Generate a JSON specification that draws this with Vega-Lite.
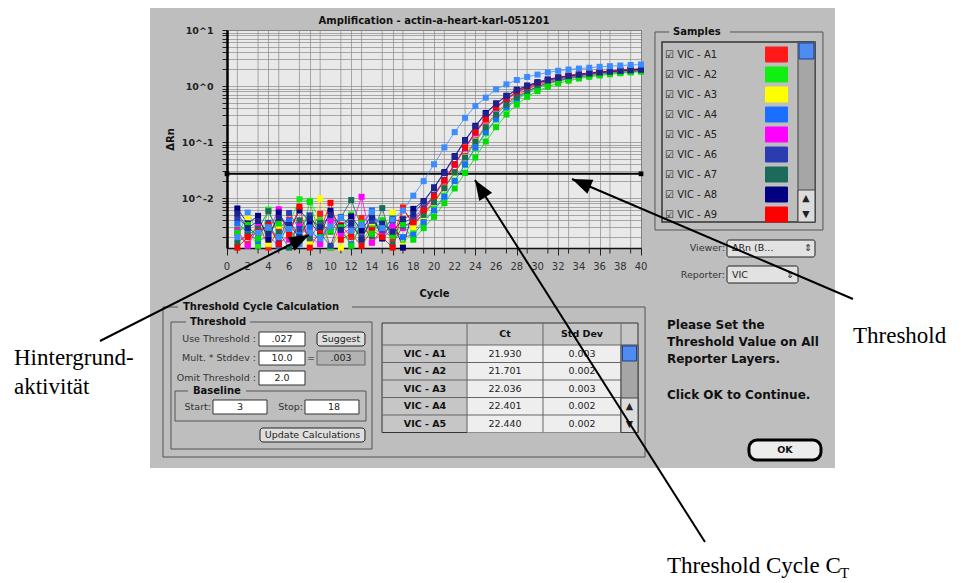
{
"$schema":"https://vega.github.io/schema/vega-lite/v6.json",
"width":414,"height":218,
"autosize":{"type":"none"},
"padding":{"left":227,"top":30,"right":321,"bottom":335},
"background":"#bebebe",
"datasets":{
"amp":[
{"s":"A1","c":1,"v":0.0022},{"s":"A1","c":2,"v":0.0015},{"s":"A1","c":3,"v":0.0038},{"s":"A1","c":4,"v":0.0013},{"s":"A1","c":5,"v":0.0029},{"s":"A1","c":6,"v":0.0041},{"s":"A1","c":7,"v":0.0018},{"s":"A1","c":8,"v":0.0026},{"s":"A1","c":9,"v":0.0052},{"s":"A1","c":10,"v":0.0013},{"s":"A1","c":11,"v":0.0033},{"s":"A1","c":12,"v":0.0020},{"s":"A1","c":13,"v":0.0044},{"s":"A1","c":14,"v":0.0016},{"s":"A1","c":15,"v":0.0028},{"s":"A1","c":16,"v":0.0019},{"s":"A1","c":17,"v":0.0068},{"s":"A1","c":18,"v":0.0032},{"s":"A1","c":19,"v":0.0054},{"s":"A1","c":20,"v":0.0088},{"s":"A1","c":21,"v":0.0155},{"s":"A1","c":22,"v":0.029},{"s":"A1","c":23,"v":0.056},{"s":"A1","c":24,"v":0.107},{"s":"A1","c":25,"v":0.195},{"s":"A1","c":26,"v":0.33},{"s":"A1","c":27,"v":0.49},{"s":"A1","c":28,"v":0.68},{"s":"A1","c":29,"v":0.87},{"s":"A1","c":30,"v":1.03},{"s":"A1","c":31,"v":1.18},{"s":"A1","c":32,"v":1.32},{"s":"A1","c":33,"v":1.44},{"s":"A1","c":34,"v":1.55},{"s":"A1","c":35,"v":1.64},{"s":"A1","c":36,"v":1.72},{"s":"A1","c":37,"v":1.79},{"s":"A1","c":38,"v":1.85},{"s":"A1","c":39,"v":1.92},{"s":"A1","c":40,"v":1.97},
{"s":"A2","c":1,"v":0.0031},{"s":"A2","c":2,"v":0.0026},{"s":"A2","c":3,"v":0.0014},{"s":"A2","c":4,"v":0.0062},{"s":"A2","c":5,"v":0.0020},{"s":"A2","c":6,"v":0.0035},{"s":"A2","c":7,"v":0.0095},{"s":"A2","c":8,"v":0.0089},{"s":"A2","c":9,"v":0.0040},{"s":"A2","c":10,"v":0.0013},{"s":"A2","c":11,"v":0.0024},{"s":"A2","c":12,"v":0.0051},{"s":"A2","c":13,"v":0.0017},{"s":"A2","c":14,"v":0.0030},{"s":"A2","c":15,"v":0.0022},{"s":"A2","c":16,"v":0.0048},{"s":"A2","c":17,"v":0.0015},{"s":"A2","c":18,"v":0.0026},{"s":"A2","c":19,"v":0.0039},{"s":"A2","c":20,"v":0.0064},{"s":"A2","c":21,"v":0.011},{"s":"A2","c":22,"v":0.0205},{"s":"A2","c":23,"v":0.039},{"s":"A2","c":24,"v":0.077},{"s":"A2","c":25,"v":0.143},{"s":"A2","c":26,"v":0.25},{"s":"A2","c":27,"v":0.40},{"s":"A2","c":28,"v":0.57},{"s":"A2","c":29,"v":0.75},{"s":"A2","c":30,"v":0.92},{"s":"A2","c":31,"v":1.08},{"s":"A2","c":32,"v":1.22},{"s":"A2","c":33,"v":1.34},{"s":"A2","c":34,"v":1.45},{"s":"A2","c":35,"v":1.55},{"s":"A2","c":36,"v":1.63},{"s":"A2","c":37,"v":1.71},{"s":"A2","c":38,"v":1.77},{"s":"A2","c":39,"v":1.83},{"s":"A2","c":40,"v":1.89},
{"s":"A3","c":1,"v":0.0019},{"s":"A3","c":2,"v":0.0046},{"s":"A3","c":3,"v":0.0023},{"s":"A3","c":4,"v":0.0015},{"s":"A3","c":5,"v":0.0032},{"s":"A3","c":6,"v":0.0020},{"s":"A3","c":7,"v":0.0027},{"s":"A3","c":8,"v":0.0016},{"s":"A3","c":9,"v":0.0098},{"s":"A3","c":10,"v":0.0034},{"s":"A3","c":11,"v":0.0013},{"s":"A3","c":12,"v":0.0029},{"s":"A3","c":13,"v":0.0021},{"s":"A3","c":14,"v":0.0037},{"s":"A3","c":15,"v":0.0025},{"s":"A3","c":16,"v":0.0055},{"s":"A3","c":17,"v":0.0014},{"s":"A3","c":18,"v":0.0030},{"s":"A3","c":19,"v":0.0047},{"s":"A3","c":20,"v":0.0082},{"s":"A3","c":21,"v":0.015},{"s":"A3","c":22,"v":0.028},{"s":"A3","c":23,"v":0.054},{"s":"A3","c":24,"v":0.104},{"s":"A3","c":25,"v":0.188},{"s":"A3","c":26,"v":0.32},{"s":"A3","c":27,"v":0.475},{"s":"A3","c":28,"v":0.65},{"s":"A3","c":29,"v":0.83},{"s":"A3","c":30,"v":0.99},{"s":"A3","c":31,"v":1.14},{"s":"A3","c":32,"v":1.27},{"s":"A3","c":33,"v":1.39},{"s":"A3","c":34,"v":1.49},{"s":"A3","c":35,"v":1.58},{"s":"A3","c":36,"v":1.66},{"s":"A3","c":37,"v":1.73},{"s":"A3","c":38,"v":1.79},{"s":"A3","c":39,"v":1.85},{"s":"A3","c":40,"v":1.90},
{"s":"A4","c":1,"v":0.0036},{"s":"A4","c":2,"v":0.0024},{"s":"A4","c":3,"v":0.0017},{"s":"A4","c":4,"v":0.0021},{"s":"A4","c":5,"v":0.0014},{"s":"A4","c":6,"v":0.0039},{"s":"A4","c":7,"v":0.0022},{"s":"A4","c":8,"v":0.0030},{"s":"A4","c":9,"v":0.0016},{"s":"A4","c":10,"v":0.0043},{"s":"A4","c":11,"v":0.0026},{"s":"A4","c":12,"v":0.0015},{"s":"A4","c":13,"v":0.0034},{"s":"A4","c":14,"v":0.0060},{"s":"A4","c":15,"v":0.0019},{"s":"A4","c":16,"v":0.0028},{"s":"A4","c":17,"v":0.0020},{"s":"A4","c":18,"v":0.0022},{"s":"A4","c":19,"v":0.0037},{"s":"A4","c":20,"v":0.0060},{"s":"A4","c":21,"v":0.0105},{"s":"A4","c":22,"v":0.020},{"s":"A4","c":23,"v":0.040},{"s":"A4","c":24,"v":0.080},{"s":"A4","c":25,"v":0.150},{"s":"A4","c":26,"v":0.26},{"s":"A4","c":27,"v":0.42},{"s":"A4","c":28,"v":0.60},{"s":"A4","c":29,"v":0.79},{"s":"A4","c":30,"v":0.97},{"s":"A4","c":31,"v":1.13},{"s":"A4","c":32,"v":1.28},{"s":"A4","c":33,"v":1.41},{"s":"A4","c":34,"v":1.52},{"s":"A4","c":35,"v":1.63},{"s":"A4","c":36,"v":1.71},{"s":"A4","c":37,"v":1.80},{"s":"A4","c":38,"v":1.86},{"s":"A4","c":39,"v":1.92},{"s":"A4","c":40,"v":1.98},
{"s":"A5","c":1,"v":0.0027},{"s":"A5","c":2,"v":0.0014},{"s":"A5","c":3,"v":0.0030},{"s":"A5","c":4,"v":0.0025},{"s":"A5","c":5,"v":0.0063},{"s":"A5","c":6,"v":0.0018},{"s":"A5","c":7,"v":0.0033},{"s":"A5","c":8,"v":0.0020},{"s":"A5","c":9,"v":0.0015},{"s":"A5","c":10,"v":0.0038},{"s":"A5","c":11,"v":0.0022},{"s":"A5","c":12,"v":0.0029},{"s":"A5","c":13,"v":0.0105},{"s":"A5","c":14,"v":0.0016},{"s":"A5","c":15,"v":0.0024},{"s":"A5","c":16,"v":0.0031},{"s":"A5","c":17,"v":0.0029},{"s":"A5","c":18,"v":0.0039},{"s":"A5","c":19,"v":0.0062},{"s":"A5","c":20,"v":0.011},{"s":"A5","c":21,"v":0.0205},{"s":"A5","c":22,"v":0.039},{"s":"A5","c":23,"v":0.077},{"s":"A5","c":24,"v":0.143},{"s":"A5","c":25,"v":0.25},{"s":"A5","c":26,"v":0.40},{"s":"A5","c":27,"v":0.57},{"s":"A5","c":28,"v":0.75},{"s":"A5","c":29,"v":0.92},{"s":"A5","c":30,"v":1.08},{"s":"A5","c":31,"v":1.22},{"s":"A5","c":32,"v":1.34},{"s":"A5","c":33,"v":1.45},{"s":"A5","c":34,"v":1.55},{"s":"A5","c":35,"v":1.63},{"s":"A5","c":36,"v":1.71},{"s":"A5","c":37,"v":1.77},{"s":"A5","c":38,"v":1.83},{"s":"A5","c":39,"v":1.89},{"s":"A5","c":40,"v":1.93},
{"s":"A6","c":1,"v":0.0044},{"s":"A6","c":2,"v":0.0030},{"s":"A6","c":3,"v":0.0021},{"s":"A6","c":4,"v":0.0036},{"s":"A6","c":5,"v":0.0016},{"s":"A6","c":6,"v":0.0054},{"s":"A6","c":7,"v":0.0028},{"s":"A6","c":8,"v":0.0049},{"s":"A6","c":9,"v":0.0023},{"s":"A6","c":10,"v":0.0014},{"s":"A6","c":11,"v":0.0046},{"s":"A6","c":12,"v":0.0032},{"s":"A6","c":13,"v":0.0020},{"s":"A6","c":14,"v":0.0039},{"s":"A6","c":15,"v":0.0027},{"s":"A6","c":16,"v":0.0043},{"s":"A6","c":17,"v":0.0036},{"s":"A6","c":18,"v":0.0044},{"s":"A6","c":19,"v":0.0066},{"s":"A6","c":20,"v":0.0115},{"s":"A6","c":21,"v":0.021},{"s":"A6","c":22,"v":0.040},{"s":"A6","c":23,"v":0.079},{"s":"A6","c":24,"v":0.149},{"s":"A6","c":25,"v":0.26},{"s":"A6","c":26,"v":0.415},{"s":"A6","c":27,"v":0.59},{"s":"A6","c":28,"v":0.78},{"s":"A6","c":29,"v":0.96},{"s":"A6","c":30,"v":1.12},{"s":"A6","c":31,"v":1.27},{"s":"A6","c":32,"v":1.39},{"s":"A6","c":33,"v":1.51},{"s":"A6","c":34,"v":1.61},{"s":"A6","c":35,"v":1.70},{"s":"A6","c":36,"v":1.78},{"s":"A6","c":37,"v":1.84},{"s":"A6","c":38,"v":1.90},{"s":"A6","c":39,"v":1.96},{"s":"A6","c":40,"v":2.01},
{"s":"A7","c":1,"v":0.0016},{"s":"A7","c":2,"v":0.0022},{"s":"A7","c":3,"v":0.0028},{"s":"A7","c":4,"v":0.0058},{"s":"A7","c":5,"v":0.0024},{"s":"A7","c":6,"v":0.0013},{"s":"A7","c":7,"v":0.0040},{"s":"A7","c":8,"v":0.0019},{"s":"A7","c":9,"v":0.0036},{"s":"A7","c":10,"v":0.0025},{"s":"A7","c":11,"v":0.0045},{"s":"A7","c":12,"v":0.0092},{"s":"A7","c":13,"v":0.0030},{"s":"A7","c":14,"v":0.0021},{"s":"A7","c":15,"v":0.0066},{"s":"A7","c":16,"v":0.0015},{"s":"A7","c":17,"v":0.0032},{"s":"A7","c":18,"v":0.0037},{"s":"A7","c":19,"v":0.0050},{"s":"A7","c":20,"v":0.0084},{"s":"A7","c":21,"v":0.015},{"s":"A7","c":22,"v":0.0285},{"s":"A7","c":23,"v":0.053},{"s":"A7","c":24,"v":0.102},{"s":"A7","c":25,"v":0.184},{"s":"A7","c":26,"v":0.31},{"s":"A7","c":27,"v":0.465},{"s":"A7","c":28,"v":0.64},{"s":"A7","c":29,"v":0.81},{"s":"A7","c":30,"v":0.97},{"s":"A7","c":31,"v":1.12},{"s":"A7","c":32,"v":1.24},{"s":"A7","c":33,"v":1.36},{"s":"A7","c":34,"v":1.46},{"s":"A7","c":35,"v":1.54},{"s":"A7","c":36,"v":1.62},{"s":"A7","c":37,"v":1.69},{"s":"A7","c":38,"v":1.75},{"s":"A7","c":39,"v":1.80},{"s":"A7","c":40,"v":1.85},
{"s":"A8","c":1,"v":0.0065},{"s":"A8","c":2,"v":0.0035},{"s":"A8","c":3,"v":0.0048},{"s":"A8","c":4,"v":0.0018},{"s":"A8","c":5,"v":0.0055},{"s":"A8","c":6,"v":0.0026},{"s":"A8","c":7,"v":0.0060},{"s":"A8","c":8,"v":0.0038},{"s":"A8","c":9,"v":0.0022},{"s":"A8","c":10,"v":0.0059},{"s":"A8","c":11,"v":0.0031},{"s":"A8","c":12,"v":0.0047},{"s":"A8","c":13,"v":0.0026},{"s":"A8","c":14,"v":0.0050},{"s":"A8","c":15,"v":0.0019},{"s":"A8","c":16,"v":0.0040},{"s":"A8","c":17,"v":0.0013},{"s":"A8","c":18,"v":0.0064},{"s":"A8","c":19,"v":0.0088},{"s":"A8","c":20,"v":0.0155},{"s":"A8","c":21,"v":0.029},{"s":"A8","c":22,"v":0.056},{"s":"A8","c":23,"v":0.108},{"s":"A8","c":24,"v":0.195},{"s":"A8","c":25,"v":0.33},{"s":"A8","c":26,"v":0.49},{"s":"A8","c":27,"v":0.67},{"s":"A8","c":28,"v":0.86},{"s":"A8","c":29,"v":1.02},{"s":"A8","c":30,"v":1.17},{"s":"A8","c":31,"v":1.31},{"s":"A8","c":32,"v":1.43},{"s":"A8","c":33,"v":1.53},{"s":"A8","c":34,"v":1.62},{"s":"A8","c":35,"v":1.70},{"s":"A8","c":36,"v":1.77},{"s":"A8","c":37,"v":1.84},{"s":"A8","c":38,"v":1.90},{"s":"A8","c":39,"v":1.95},{"s":"A8","c":40,"v":1.99},
{"s":"A9","c":1,"v":0.0013},{"s":"A9","c":2,"v":0.0020},{"s":"A9","c":3,"v":0.0025},{"s":"A9","c":4,"v":0.0033},{"s":"A9","c":5,"v":0.0015},{"s":"A9","c":6,"v":0.0022},{"s":"A9","c":7,"v":0.0070},{"s":"A9","c":8,"v":0.0013},{"s":"A9","c":9,"v":0.0026},{"s":"A9","c":10,"v":0.0082},{"s":"A9","c":11,"v":0.0018},{"s":"A9","c":12,"v":0.0023},{"s":"A9","c":13,"v":0.0014},{"s":"A9","c":14,"v":0.0027},{"s":"A9","c":15,"v":0.0020},{"s":"A9","c":16,"v":0.0013},{"s":"A9","c":17,"v":0.0062},{"s":"A9","c":18,"v":0.0037},{"s":"A9","c":19,"v":0.0061},{"s":"A9","c":20,"v":0.0108},{"s":"A9","c":21,"v":0.0205},{"s":"A9","c":22,"v":0.040},{"s":"A9","c":23,"v":0.080},{"s":"A9","c":24,"v":0.150},{"s":"A9","c":25,"v":0.26},{"s":"A9","c":26,"v":0.42},{"s":"A9","c":27,"v":0.60},{"s":"A9","c":28,"v":0.79},{"s":"A9","c":29,"v":0.97},{"s":"A9","c":30,"v":1.13},{"s":"A9","c":31,"v":1.28},{"s":"A9","c":32,"v":1.41},{"s":"A9","c":33,"v":1.52},{"s":"A9","c":34,"v":1.63},{"s":"A9","c":35,"v":1.71},{"s":"A9","c":36,"v":1.80},{"s":"A9","c":37,"v":1.86},{"s":"A9","c":38,"v":1.92},{"s":"A9","c":39,"v":1.98},{"s":"A9","c":40,"v":2.03},
{"s":"A10","c":1,"v":0.0024},{"s":"A10","c":2,"v":0.0033},{"s":"A10","c":3,"v":0.0019},{"s":"A10","c":4,"v":0.0027},{"s":"A10","c":5,"v":0.0035},{"s":"A10","c":6,"v":0.0029},{"s":"A10","c":7,"v":0.0016},{"s":"A10","c":8,"v":0.0085},{"s":"A10","c":9,"v":0.0020},{"s":"A10","c":10,"v":0.0026},{"s":"A10","c":11,"v":0.0030},{"s":"A10","c":12,"v":0.0014},{"s":"A10","c":13,"v":0.0036},{"s":"A10","c":14,"v":0.0023},{"s":"A10","c":15,"v":0.0040},{"s":"A10","c":16,"v":0.0021},{"s":"A10","c":17,"v":0.0034},{"s":"A10","c":18,"v":0.0018},{"s":"A10","c":19,"v":0.0029},{"s":"A10","c":20,"v":0.0046},{"s":"A10","c":21,"v":0.0081},{"s":"A10","c":22,"v":0.0148},{"s":"A10","c":23,"v":0.028},{"s":"A10","c":24,"v":0.053},{"s":"A10","c":25,"v":0.102},{"s":"A10","c":26,"v":0.184},{"s":"A10","c":27,"v":0.31},{"s":"A10","c":28,"v":0.465},{"s":"A10","c":29,"v":0.64},{"s":"A10","c":30,"v":0.81},{"s":"A10","c":31,"v":0.97},{"s":"A10","c":32,"v":1.12},{"s":"A10","c":33,"v":1.24},{"s":"A10","c":34,"v":1.36},{"s":"A10","c":35,"v":1.46},{"s":"A10","c":36,"v":1.54},{"s":"A10","c":37,"v":1.62},{"s":"A10","c":38,"v":1.69},{"s":"A10","c":39,"v":1.75},{"s":"A10","c":40,"v":1.80},
{"s":"A11","c":1,"v":0.0053},{"s":"A11","c":2,"v":0.0029},{"s":"A11","c":3,"v":0.0039},{"s":"A11","c":4,"v":0.0023},{"s":"A11","c":5,"v":0.0044},{"s":"A11","c":6,"v":0.0033},{"s":"A11","c":7,"v":0.0020},{"s":"A11","c":8,"v":0.0043},{"s":"A11","c":9,"v":0.0030},{"s":"A11","c":10,"v":0.0050},{"s":"A11","c":11,"v":0.0027},{"s":"A11","c":12,"v":0.0036},{"s":"A11","c":13,"v":0.0018},{"s":"A11","c":14,"v":0.0046},{"s":"A11","c":15,"v":0.0035},{"s":"A11","c":16,"v":0.0025},{"s":"A11","c":17,"v":0.0042},{"s":"A11","c":18,"v":0.0052},{"s":"A11","c":19,"v":0.0086},{"s":"A11","c":20,"v":0.0151},{"s":"A11","c":21,"v":0.028},{"s":"A11","c":22,"v":0.054},{"s":"A11","c":23,"v":0.105},{"s":"A11","c":24,"v":0.19},{"s":"A11","c":25,"v":0.32},{"s":"A11","c":26,"v":0.48},{"s":"A11","c":27,"v":0.66},{"s":"A11","c":28,"v":0.84},{"s":"A11","c":29,"v":1.0},{"s":"A11","c":30,"v":1.15},{"s":"A11","c":31,"v":1.28},{"s":"A11","c":32,"v":1.40},{"s":"A11","c":33,"v":1.50},{"s":"A11","c":34,"v":1.59},{"s":"A11","c":35,"v":1.67},{"s":"A11","c":36,"v":1.74},{"s":"A11","c":37,"v":1.80},{"s":"A11","c":38,"v":1.86},{"s":"A11","c":39,"v":1.91},{"s":"A11","c":40,"v":1.95},
{"s":"A12","c":1,"v":0.0020},{"s":"A12","c":2,"v":0.0055},{"s":"A12","c":3,"v":0.0024},{"s":"A12","c":4,"v":0.0030},{"s":"A12","c":5,"v":0.0020},{"s":"A12","c":6,"v":0.0028},{"s":"A12","c":7,"v":0.0015},{"s":"A12","c":8,"v":0.0024},{"s":"A12","c":9,"v":0.0019},{"s":"A12","c":10,"v":0.0031},{"s":"A12","c":11,"v":0.0045},{"s":"A12","c":12,"v":0.0026},{"s":"A12","c":13,"v":0.0033},{"s":"A12","c":14,"v":0.0056},{"s":"A12","c":15,"v":0.0029},{"s":"A12","c":16,"v":0.0041},{"s":"A12","c":17,"v":0.0060},{"s":"A12","c":18,"v":0.011},{"s":"A12","c":19,"v":0.020},{"s":"A12","c":20,"v":0.040},{"s":"A12","c":21,"v":0.080},{"s":"A12","c":22,"v":0.150},{"s":"A12","c":23,"v":0.27},{"s":"A12","c":24,"v":0.44},{"s":"A12","c":25,"v":0.62},{"s":"A12","c":26,"v":0.87},{"s":"A12","c":27,"v":1.07},{"s":"A12","c":28,"v":1.28},{"s":"A12","c":29,"v":1.45},{"s":"A12","c":30,"v":1.60},{"s":"A12","c":31,"v":1.75},{"s":"A12","c":32,"v":1.87},{"s":"A12","c":33,"v":1.97},{"s":"A12","c":34,"v":2.05},{"s":"A12","c":35,"v":2.12},{"s":"A12","c":36,"v":2.20},{"s":"A12","c":37,"v":2.26},{"s":"A12","c":38,"v":2.32},{"s":"A12","c":39,"v":2.37},{"s":"A12","c":40,"v":2.42}
],
"thr":[{"c":0,"v":0.027},{"c":40,"v":0.027}],
"odd":[{"c":1},{"c":3},{"c":5},{"c":7},{"c":9},{"c":11},{"c":13},{"c":15},{"c":17},{"c":19},{"c":21},{"c":23},{"c":25},{"c":27},{"c":29},{"c":31},{"c":33},{"c":35},{"c":37},{"c":39}],
"even":[{"c":0},{"c":2},{"c":4},{"c":6},{"c":8},{"c":10},{"c":12},{"c":14},{"c":16},{"c":18},{"c":20},{"c":22},{"c":24},{"c":26},{"c":28},{"c":30},{"c":32},{"c":34},{"c":36},{"c":38},{"c":40}],
"arr":[
{"id":"a","x":-12.27,"y":2.795e-5,"x2":7.923,"y2":0.002184},
{"id":"b","x":60.48,"y":1.572e-4,"x2":33.33,"y2":0.02184},
{"id":"c","x":46.18,"y":7.197e-9,"x2":23.96,"y2":0.02096}
],
"ui":[
{"k":"white","x":-30,"x2":-7.44,"y":1e-11,"y2":1000},
{"k":"white","x":58.74,"x2":80,"y":1e-11,"y2":1000},
{"k":"white","x":-30,"x2":80,"y":24.71,"y2":42.2},
{"k":"white","x":-30,"x2":80,"y":1e-11,"y2":1.509e-7},
{"k":"box","x":41.35,"x2":57.58,"y":9.211,"y2":0.002683},
{"k":"box","x":-6.184,"x2":40.39,"y":1.131e-4,"y2":2.371e-7},
{"k":"box","x":-5.411,"x2":14.01,"y":6.105e-5,"y2":3.295e-7},
{"k":"box","x":-5.024,"x2":13.43,"y":3.577e-6,"y2":1.042e-6},
{"k":"lbox","x":42.03,"x2":56.81,"y":6.105,"y2":0.003727},
{"k":"gap","x":42.71,"x2":48.6,"y":10.86,"y2":7.813},
{"k":"gap","x":-4.734,"x2":12.08,"y":1.389e-4,"y2":9.21e-5},
{"k":"gap","x":-3.961,"x2":2.222,"y":7.499e-5,"y2":4.971e-5},
{"k":"gap","x":-3.768,"x2":1.836,"y":4.394e-6,"y2":2.912e-6},
{"k":"field","x":3.092,"x2":7.536,"y":4.047e-5,"y2":2.276e-5},
{"k":"field","x":3.092,"x2":7.536,"y":1.853e-5,"y2":1.042e-5},
{"k":"field","x":3.092,"x2":7.536,"y":8.14e-6,"y2":4.578e-6},
{"k":"field","x":-1.353,"x2":3.865,"y":2.471e-6,"y2":1.389e-6},
{"k":"field","x":7.536,"x2":12.75,"y":2.471e-6,"y2":1.389e-6},
{"k":"gfield","x":8.696,"x2":13.33,"y":1.853e-5,"y2":1.042e-5},
{"k":"btn","x":8.696,"x2":13.33,"y":4.047e-5,"y2":2.276e-5},
{"k":"btn","x":3.188,"x2":13.33,"y":7.813e-7,"y2":4.394e-7},
{"k":"popup","x":48.31,"x2":56.81,"y":0.001778,"y2":8.84e-4},
{"k":"popup","x":48.31,"x2":55.17,"y":6.105e-4,"y2":3.035e-4},
{"k":"tbl","x":14.98,"x2":39.71,"y":5.86e-5,"y2":6.494e-7},
{"k":"cells","x":23.19,"x2":38.07,"y":2.371e-5,"y2":6.494e-7},
{"k":"track","x":55.17,"x2":56.81,"y":6.105,"y2":0.003727},
{"k":"track","x":38.07,"x2":39.71,"y":2.371e-5,"y2":6.494e-7},
{"k":"thumb","x":55.27,"x2":56.71,"y":5.86,"y2":3.035},
{"k":"thumb","x":38.21,"x2":39.57,"y":2.276e-5,"y2":1.228e-5},
{"k":"abox","x":55.17,"x2":56.81,"y":0.01389,"y2":0.003727},
{"k":"abox","x":38.07,"x2":39.71,"y":2.683e-6,"y2":6.494e-7},
{"k":"ok","x":50.43,"x2":57.39,"y":4.771e-7,"y2":2.096e-7},
{"k":"tline","x":14.98,"x2":38.07,"y":2.371e-5,"y2":2.371e-5},
{"k":"tline","x":14.98,"x2":38.07,"y":1.155e-5,"y2":1.155e-5},
{"k":"tline","x":14.98,"x2":38.07,"y":5.623e-6,"y2":5.623e-6},
{"k":"tline","x":14.98,"x2":38.07,"y":2.738e-6,"y2":2.738e-6},
{"k":"tline","x":14.98,"x2":38.07,"y":1.334e-6,"y2":1.334e-6},
{"k":"tline","x":23.19,"x2":23.19,"y":5.86e-5,"y2":6.494e-7},
{"k":"tline","x":30.53,"x2":30.53,"y":5.86e-5,"y2":6.494e-7},
{"k":"tline","x":38.07,"x2":38.07,"y":5.86e-5,"y2":6.494e-7},
{"k":"tTitle","x":20.0,"y":14.48,"t":"Amplification - actin-a-heart-karl-051201"},
{"k":"tBL","x":43.09,"y":9.211,"t":"Samples"},
{"k":"tBL","x":-4.251,"y":1.131e-4,"t":"Threshold Cycle Calculation"},
{"k":"tBL","x":-3.575,"y":6.105e-5,"t":"Threshold"},
{"k":"tBL","x":-3.285,"y":3.577e-6,"t":"Baseline"},
{"k":"tR","x":2.802,"y":3.035e-5,"t":"Use Threshold :"},
{"k":"tR","x":2.802,"y":1.389e-5,"t":"Mult. * Stddev :"},
{"k":"tR","x":2.802,"y":6.105e-6,"t":"Omit Threshold :"},
{"k":"tR","x":-1.546,"y":1.853e-6,"t":"Start:"},
{"k":"tR","x":7.343,"y":1.853e-6,"t":"Stop:"},
{"k":"tR","x":48.12,"y":0.00128,"t":"Viewer:"},
{"k":"tR","x":48.12,"y":4.217e-4,"t":"Reporter:"},
{"k":"tC","x":5.314,"y":3.035e-5,"t":".027"},
{"k":"tC","x":5.314,"y":1.389e-5,"t":"10.0"},
{"k":"tC","x":5.314,"y":6.105e-6,"t":"2.0"},
{"k":"tC","x":11.01,"y":3.035e-5,"t":"Suggest"},
{"k":"tC","x":8.116,"y":1.389e-5,"t":"="},
{"k":"tC","x":11.01,"y":1.389e-5,"t":".003"},
{"k":"tC","x":1.256,"y":1.853e-6,"t":"3"},
{"k":"tC","x":8.261,"y":5.86e-7,"t":"Update Calculations"},
{"k":"tC","x":26.86,"y":1.638e-5,"t":"21.930"},
{"k":"tC","x":26.86,"y":8.14e-6,"t":"21.701"},
{"k":"tC","x":26.86,"y":3.884e-6,"t":"22.036"},
{"k":"tC","x":26.86,"y":1.931e-6,"t":"22.401"},
{"k":"tC","x":26.86,"y":9.21e-7,"t":"22.440"},
{"k":"tC","x":34.3,"y":1.638e-5,"t":"0.003"},
{"k":"tC","x":34.3,"y":8.14e-6,"t":"0.002"},
{"k":"tC","x":34.3,"y":3.884e-6,"t":"0.003"},
{"k":"tC","x":34.3,"y":1.931e-6,"t":"0.002"},
{"k":"tC","x":34.3,"y":9.21e-7,"t":"0.002"},
{"k":"tC","x":55.94,"y":0.01,"t":"▲"},
{"k":"tC","x":55.94,"y":0.005179,"t":"▼"},
{"k":"tC","x":38.89,"y":1.931e-6,"t":"▲"},
{"k":"tC","x":38.89,"y":9.21e-7,"t":"▼"},
{"k":"tC","x":56.14,"y":0.00128,"t":"⇕"},
{"k":"tC","x":54.4,"y":4.217e-4,"t":"⇕"},
{"k":"tL","x":9.758,"y":1.853e-6,"t":"18"},
{"k":"tL","x":48.79,"y":0.00128,"t":"ΔRn (B..."},
{"k":"tL","x":48.79,"y":4.217e-4,"t":"VIC"},
{"k":"tBC","x":26.86,"y":3.728e-5,"t":"Ct"},
{"k":"tBC","x":34.3,"y":3.728e-5,"t":"Std Dev"},
{"k":"tBC","x":19.13,"y":1.638e-5,"t":"VIC - A1"},
{"k":"tBC","x":19.13,"y":8.14e-6,"t":"VIC - A2"},
{"k":"tBC","x":19.13,"y":3.884e-6,"t":"VIC - A3"},
{"k":"tBC","x":19.13,"y":1.931e-6,"t":"VIC - A4"},
{"k":"tBC","x":19.13,"y":9.21e-7,"t":"VIC - A5"},
{"k":"tBC","x":53.91,"y":3.162e-7,"t":"OK"},
{"k":"msg","x":42.51,"y":5.397e-5,"t":"Please Set the"},
{"k":"msg","x":42.51,"y":2.683e-5,"t":"Threshold Value on All"},
{"k":"msg","x":42.51,"y":1.334e-5,"t":"Reporter Layers."},
{"k":"msg","x":42.51,"y":3.035e-6,"t":"Click OK to Continue."},
{"k":"ann","x":-20.58,"y":1.042e-5,"t":"Hintergrund-"},
{"k":"ann","x":-20.58,"y":3.162e-6,"t":"aktivität"},
{"k":"ann","x":60.48,"y":2.575e-5,"t":"Threshold"},
{"k":"ann","x":42.51,"y":2.0e-9,"t":"Threshold Cycle C"},
{"k":"annsub","x":59.22,"y":1.65e-9,"t":"T"}
]
},
"layer":[
{"data":{"name":"ui"},"transform":[{"filter":"datum.k=='white'"}],"mark":{"type":"rect","fill":"#ffffff","clip":false},"encoding":{"x":{"field":"x","type":"quantitative"},"x2":{"field":"x2"},"y":{"field":"y","type":"quantitative"},"y2":{"field":"y2"}}},
{"data":{"name":"ui"},"transform":[{"filter":"datum.k=='box'"}],"mark":{"type":"rect","fill":null,"fillOpacity":0,"stroke":"#555555","strokeWidth":1,"clip":false},"encoding":{"x":{"field":"x","type":"quantitative"},"x2":{"field":"x2"},"y":{"field":"y","type":"quantitative"},"y2":{"field":"y2"}}},
{"data":{"name":"ui"},"transform":[{"filter":"datum.k=='lbox'"}],"mark":{"type":"rect","fill":null,"fillOpacity":0,"stroke":"#333333","strokeWidth":1.5,"clip":false},"encoding":{"x":{"field":"x","type":"quantitative"},"x2":{"field":"x2"},"y":{"field":"y","type":"quantitative"},"y2":{"field":"y2"}}},
{"data":{"name":"ui"},"transform":[{"filter":"datum.k=='gap'"}],"mark":{"type":"rect","fill":"#bebebe","clip":false},"encoding":{"x":{"field":"x","type":"quantitative"},"x2":{"field":"x2"},"y":{"field":"y","type":"quantitative"},"y2":{"field":"y2"}}},
{"data":{"name":"ui"},"transform":[{"filter":"datum.k=='field'"}],"mark":{"type":"rect","fill":"#ffffff","stroke":"#333333","strokeWidth":1,"clip":false},"encoding":{"x":{"field":"x","type":"quantitative"},"x2":{"field":"x2"},"y":{"field":"y","type":"quantitative"},"y2":{"field":"y2"}}},
{"data":{"name":"ui"},"transform":[{"filter":"datum.k=='gfield'"}],"mark":{"type":"rect","fill":"#b2b2b2","stroke":"#666666","strokeWidth":1,"clip":false},"encoding":{"x":{"field":"x","type":"quantitative"},"x2":{"field":"x2"},"y":{"field":"y","type":"quantitative"},"y2":{"field":"y2"}}},
{"data":{"name":"ui"},"transform":[{"filter":"datum.k=='btn'"}],"mark":{"type":"rect","fill":"#dedede","stroke":"#222222","strokeWidth":1,"cornerRadius":3,"clip":false},"encoding":{"x":{"field":"x","type":"quantitative"},"x2":{"field":"x2"},"y":{"field":"y","type":"quantitative"},"y2":{"field":"y2"}}},
{"data":{"name":"ui"},"transform":[{"filter":"datum.k=='popup'"}],"mark":{"type":"rect","fill":"#e2e2e2","stroke":"#222222","strokeWidth":1,"cornerRadius":2,"clip":false},"encoding":{"x":{"field":"x","type":"quantitative"},"x2":{"field":"x2"},"y":{"field":"y","type":"quantitative"},"y2":{"field":"y2"}}},
{"data":{"name":"ui"},"transform":[{"filter":"datum.k=='tbl'"}],"mark":{"type":"rect","fill":"#c6c6c6","stroke":"#333333","strokeWidth":1,"clip":false},"encoding":{"x":{"field":"x","type":"quantitative"},"x2":{"field":"x2"},"y":{"field":"y","type":"quantitative"},"y2":{"field":"y2"}}},
{"data":{"name":"ui"},"transform":[{"filter":"datum.k=='cells'"}],"mark":{"type":"rect","fill":"#eeeeee","clip":false},"encoding":{"x":{"field":"x","type":"quantitative"},"x2":{"field":"x2"},"y":{"field":"y","type":"quantitative"},"y2":{"field":"y2"}}},
{"data":{"name":"ui"},"transform":[{"filter":"datum.k=='tline'"}],"mark":{"type":"rule","stroke":"#666666","strokeWidth":1,"clip":false},"encoding":{"x":{"field":"x","type":"quantitative"},"x2":{"field":"x2"},"y":{"field":"y","type":"quantitative"},"y2":{"field":"y2"}}},
{"data":{"name":"ui"},"transform":[{"filter":"datum.k=='track'"}],"mark":{"type":"rect","fill":"#a6a6a6","stroke":"#444444","strokeWidth":1,"clip":false},"encoding":{"x":{"field":"x","type":"quantitative"},"x2":{"field":"x2"},"y":{"field":"y","type":"quantitative"},"y2":{"field":"y2"}}},
{"data":{"name":"ui"},"transform":[{"filter":"datum.k=='thumb'"}],"mark":{"type":"rect","fill":"#4f8cf2","stroke":"#1c3f90","strokeWidth":1,"clip":false},"encoding":{"x":{"field":"x","type":"quantitative"},"x2":{"field":"x2"},"y":{"field":"y","type":"quantitative"},"y2":{"field":"y2"}}},
{"data":{"name":"ui"},"transform":[{"filter":"datum.k=='abox'"}],"mark":{"type":"rect","fill":"#dcdcdc","stroke":"#444444","strokeWidth":1,"clip":false},"encoding":{"x":{"field":"x","type":"quantitative"},"x2":{"field":"x2"},"y":{"field":"y","type":"quantitative"},"y2":{"field":"y2"}}},
{"data":{"name":"ui"},"transform":[{"filter":"datum.k=='ok'"}],"mark":{"type":"rect","fill":"#ececec","stroke":"#000000","strokeWidth":3,"cornerRadius":8,"clip":false},"encoding":{"x":{"field":"x","type":"quantitative"},"x2":{"field":"x2"},"y":{"field":"y","type":"quantitative"},"y2":{"field":"y2"}}},
{"data":{"name":"ui"},"transform":[{"filter":"datum.k=='tTitle'"}],"mark":{"type":"text","font":"DejaVu Sans","fontSize":10,"fontWeight":"bold","fill":"#111111","align":"center","baseline":"middle","clip":false},"encoding":{"x":{"field":"x","type":"quantitative"},"y":{"field":"y","type":"quantitative"},"text":{"field":"t"}}},
{"data":{"name":"ui"},"transform":[{"filter":"datum.k=='tBL'"}],"mark":{"type":"text","font":"DejaVu Sans","fontSize":10,"fontWeight":"bold","fill":"#111111","align":"left","baseline":"middle","clip":false},"encoding":{"x":{"field":"x","type":"quantitative"},"y":{"field":"y","type":"quantitative"},"text":{"field":"t"}}},
{"data":{"name":"ui"},"transform":[{"filter":"datum.k=='tR'"}],"mark":{"type":"text","font":"DejaVu Sans","fontSize":9.5,"fill":"#333333","align":"right","baseline":"middle","clip":false},"encoding":{"x":{"field":"x","type":"quantitative"},"y":{"field":"y","type":"quantitative"},"text":{"field":"t"}}},
{"data":{"name":"ui"},"transform":[{"filter":"datum.k=='tC'"}],"mark":{"type":"text","font":"DejaVu Sans","fontSize":9.5,"fill":"#222222","align":"center","baseline":"middle","clip":false},"encoding":{"x":{"field":"x","type":"quantitative"},"y":{"field":"y","type":"quantitative"},"text":{"field":"t"}}},
{"data":{"name":"ui"},"transform":[{"filter":"datum.k=='tL'"}],"mark":{"type":"text","font":"DejaVu Sans","fontSize":9.5,"fill":"#222222","align":"left","baseline":"middle","clip":false},"encoding":{"x":{"field":"x","type":"quantitative"},"y":{"field":"y","type":"quantitative"},"text":{"field":"t"}}},
{"data":{"name":"ui"},"transform":[{"filter":"datum.k=='tBC'"}],"mark":{"type":"text","font":"DejaVu Sans","fontSize":9.5,"fontWeight":"bold","fill":"#111111","align":"center","baseline":"middle","clip":false},"encoding":{"x":{"field":"x","type":"quantitative"},"y":{"field":"y","type":"quantitative"},"text":{"field":"t"}}},
{"data":{"name":"ui"},"transform":[{"filter":"datum.k=='msg'"}],"mark":{"type":"text","font":"DejaVu Sans","fontSize":12,"fontWeight":"bold","fill":"#111111","align":"left","baseline":"middle","clip":false},"encoding":{"x":{"field":"x","type":"quantitative"},"y":{"field":"y","type":"quantitative"},"text":{"field":"t"}}},
{"data":{"name":"odd"},"mark":{"type":"rule","stroke":"#8a8a8a","strokeWidth":0.7},"encoding":{"x":{"field":"c","type":"quantitative"},"y":{"datum":0.00128,"type":"quantitative"},"y2":{"datum":10}}},
{"data":{"name":"odd"},"mark":{"type":"rule","stroke":"#222222","strokeWidth":1,"clip":false},"encoding":{"x":{"field":"c","type":"quantitative"},"y":{"datum":0.00128,"type":"quantitative"},"y2":{"datum":0.00102}}},
{"data":{"name":"even"},"mark":{"type":"text","font":"DejaVu Sans","fontSize":10,"fill":"#333333","align":"center","baseline":"middle","clip":false},"encoding":{"x":{"field":"c","type":"quantitative"},"y":{"datum":5.86e-4,"type":"quantitative"},"text":{"field":"c","type":"quantitative"}}},
{"data":{"name":"thr"},"mark":{"type":"line","color":"#000000","strokeWidth":2},"encoding":{"x":{"field":"c","type":"quantitative"},"y":{"field":"v","type":"quantitative"}}},
{"data":{"name":"thr"},"mark":{"type":"point","shape":"square","filled":true,"color":"#000000","size":22,"opacity":1},"encoding":{"x":{"field":"c","type":"quantitative"},"y":{"field":"v","type":"quantitative"}}},
{"data":{"name":"amp"},"mark":{"type":"line","strokeWidth":0.8},
 "encoding":{
  "x":{"field":"c","type":"quantitative","scale":{"domain":[0,40],"nice":false,"zero":false},
   "axis":{"values":[0,2,4,6,8,10,12,14,16,18,20,22,24,26,28,30,32,34,36,38,40],"labels":false,
    "grid":true,"gridColor":"#8a8a8a","gridWidth":0.7,"tickSize":7,"tickColor":"#222222","domainColor":"#111111","domainWidth":1.5,
    "title":"Cycle","titleFont":"DejaVu Sans","titleFontSize":10,"titleFontWeight":"bold","titleColor":"#111111","titleX":207,"titleY":45,"titleBaseline":"middle","titleAlign":"center"}},
  "y":{"field":"v","type":"quantitative","scale":{"type":"log","domain":[0.00128,10],"nice":false},
   "axis":{"values":[0.002,0.003,0.004,0.005,0.006,0.007,0.008,0.009,0.01,0.02,0.03,0.04,0.05,0.06,0.07,0.08,0.09,0.1,0.2,0.3,0.4,0.5,0.6,0.7,0.8,0.9,1,2,3,4,5,6,7,8,9,10],
    "labelExpr":"datum.value==10?'10^1':datum.value==1?'10^0':datum.value==0.1?'10^-1':datum.value==0.01?'10^-2':''",
    "grid":true,"gridColor":"#8a8a8a","gridWidth":0.7,"tickSize":5,"tickColor":"#222222","domainColor":"#000000","domainWidth":2.5,
    "labelFont":"DejaVu Sans","labelFontSize":9.5,"labelFontWeight":"bold","labelColor":"#222222","labelPadding":9,"labelOverlap":false,"labelFlush":false,
    "title":"ΔRn","titleFont":"DejaVu Sans","titleFontSize":10,"titleFontWeight":"bold","titleColor":"#111111","titleX":-57,"titleY":109,"titleAngle":-90,"titleAlign":"center","titleBaseline":"middle"}},
  "color":{"field":"s","type":"nominal","scale":{"domain":["A1","A2","A3","A4","A5","A6","A7","A8","A9","A10","A11","A12"],"range":["#ff1a1a","#11ee11","#ffff00","#1a6fff","#ff00ff","#2a3cb0","#1a6b5a","#000080","#ff0000","#00dd00","#1a2590","#3c8cff"]}},
  "order":{"field":"c"}}},
{"data":{"name":"amp"},"mark":{"type":"point","shape":"square","filled":true,"size":36,"opacity":1},
 "encoding":{
  "x":{"field":"c","type":"quantitative"},
  "y":{"field":"v","type":"quantitative"},
  "color":{"field":"s","type":"nominal",
   "legend":{"values":["A1","A2","A3","A4","A5","A6","A7","A8","A9"],"orient":"none","legendX":435,"legendY":12,"title":null,"direction":"vertical","columns":1,
    "symbolType":"M-1.22,-0.83H1.22V0.83H-1.22Z","symbolSize":324,"symbolStrokeColor":"#222222","symbolStrokeWidth":1,"symbolOpacity":1,
    "labelExpr":"'☑ VIC - ' + datum.label","labelFont":"DejaVu Sans","labelFontSize":10,"labelColor":"#222222","labelOffset":-121,"symbolOffset":102,"rowPadding":1,"padding":3,"labelBaseline":"middle",
    "encode":{"symbols":{"update":{"fill":{"scale":"color","field":"value"},"fillOpacity":{"value":1},"stroke":{"value":"#222222"},"strokeWidth":{"value":1}}}}}}}},
{"data":{"name":"arr"},"mark":{"type":"rule","color":"#000000","strokeWidth":2,"clip":false},"encoding":{"x":{"field":"x","type":"quantitative"},"y":{"field":"y","type":"quantitative"},"x2":{"field":"x2"},"y2":{"field":"y2"}}},
{"data":{"name":"arr"},"transform":[{"filter":"datum.id=='a'"}],"mark":{"type":"point","shape":"M0,0L0.38,1L-0.38,1Z","filled":true,"color":"#000000","size":1600,"angle":63.1,"opacity":1,"clip":false},"encoding":{"x":{"field":"x2","type":"quantitative"},"y":{"field":"y2","type":"quantitative"}}},
{"data":{"name":"arr"},"transform":[{"filter":"datum.id=='b'"}],"mark":{"type":"point","shape":"M0,0L0.38,1L-0.38,1Z","filled":true,"color":"#000000","size":1600,"angle":293.1,"opacity":1,"clip":false},"encoding":{"x":{"field":"x2","type":"quantitative"},"y":{"field":"y2","type":"quantitative"}}},
{"data":{"name":"arr"},"transform":[{"filter":"datum.id=='c'"}],"mark":{"type":"point","shape":"M0,0L0.38,1L-0.38,1Z","filled":true,"color":"#000000","size":1600,"angle":327.6,"opacity":1,"clip":false},"encoding":{"x":{"field":"x2","type":"quantitative"},"y":{"field":"y2","type":"quantitative"}}},
{"data":{"name":"ui"},"transform":[{"filter":"datum.k=='ann'"}],"mark":{"type":"text","font":"Liberation Serif","fontSize":23,"fill":"#000000","align":"left","baseline":"alphabetic","clip":false},"encoding":{"x":{"field":"x","type":"quantitative"},"y":{"field":"y","type":"quantitative"},"text":{"field":"t"}}},
{"data":{"name":"ui"},"transform":[{"filter":"datum.k=='annsub'"}],"mark":{"type":"text","font":"Liberation Serif","fontSize":15,"fill":"#000000","align":"left","baseline":"alphabetic","clip":false},"encoding":{"x":{"field":"x","type":"quantitative"},"y":{"field":"y","type":"quantitative"},"text":{"field":"t"}}}
],
"config":{"view":{"fill":"#e9e9e9","stroke":"#707070"}}
}
